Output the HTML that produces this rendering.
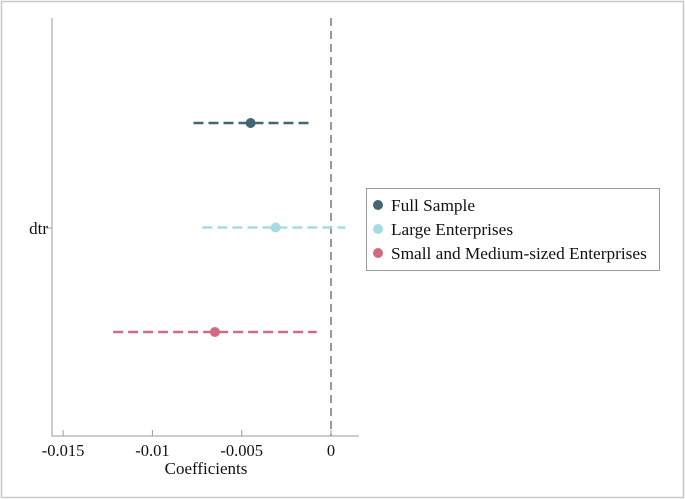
<!DOCTYPE html>
<html><head><style>
body{margin:0;background:#fff;}
svg{display:block;font-family:"Liberation Serif",serif;}
</style></head><body>
<svg width="685" height="499">
<rect x="1.5" y="1.5" width="682" height="496" fill="#fff" stroke="#c8c8c8" stroke-width="1.5"/>
<g id="plot"></g>
<g>
<rect x="366.5" y="188.5" width="293" height="82" fill="#fff" stroke="#999"/>
<g id="legend-entries"></g>
</g>
</svg>
<script>
const categories=["Full Sample","Large Enterprises","Small and Medium-sized Enterprises"];
const coefs=[-0.0045,-0.0031,-0.0065];
const ciLow=[-0.0077,-0.0072,-0.0122];
const ciHigh=[-0.0012,0.0008,-0.0008];
const xTicks=[-0.015,-0.01,-0.005,0];
const xTickLabels=["-0.015","-0.01","-0.005","0"];
const colors=["#456474","#a6dae4","#d06c80"];
const NS="http://www.w3.org/2000/svg";
const g=document.getElementById('plot');
const x=v=>331+v*17860;
const rowY=i=>123+i*104.5;
function mk(t,a,p){const e=document.createElementNS(NS,t);for(const k in a)e.setAttribute(k,a[k]);(p||g).appendChild(e);return e;}
let e=mk('line',{x1:52,y1:18,x2:52,y2:436,stroke:'#999','stroke-width':1});


e=mk('line',{x1:52,y1:436,x2:359,y2:436,stroke:'#999','stroke-width':1});


xTicks.forEach((t,i)=>{
 let l=mk('line',{x1:x(t),y1:430,x2:x(t),y2:436,stroke:'#999'});
 
 
 let tx=mk('text',{x:x(t),y:456,'text-anchor':'middle','font-size':16.5,fill:'#111'});
 tx.textContent=xTickLabels[i];
 
 
});
e=mk('text',{x:206,y:474,'text-anchor':'middle','font-size':17,fill:'#111'});
e.textContent='Coefficients';


e=mk('line',{x1:46,y1:228,x2:52,y2:228,stroke:'#999'});


e=mk('text',{x:48,y:234,'text-anchor':'end','font-size':17,fill:'#111'});
e.textContent='dtr';


e=mk('line',{x1:x(0),y1:18,x2:x(0),y2:436,stroke:'#999','stroke-width':2,'stroke-dasharray':'8,5'});


categories.forEach((c,i)=>{
 let l=mk('line',{x1:x(ciLow[i]),y1:rowY(i),x2:x(ciHigh[i]),y2:rowY(i),stroke:colors[i],'stroke-width':2.5,'stroke-dasharray':'10,5'});
 
 
 let p=mk('circle',{cx:x(coefs[i]),cy:rowY(i),r:5,fill:colors[i]});
 
 
 const lg=document.getElementById('legend-entries');
 let d=mk('circle',{cx:378,cy:205+i*24,r:5,fill:colors[i]},lg);
 
 
 let t=mk('text',{x:391,y:211+i*24,'font-size':17.3,fill:'#111'},lg);
 t.textContent=c;
 
 
});
</script>
</body></html>
